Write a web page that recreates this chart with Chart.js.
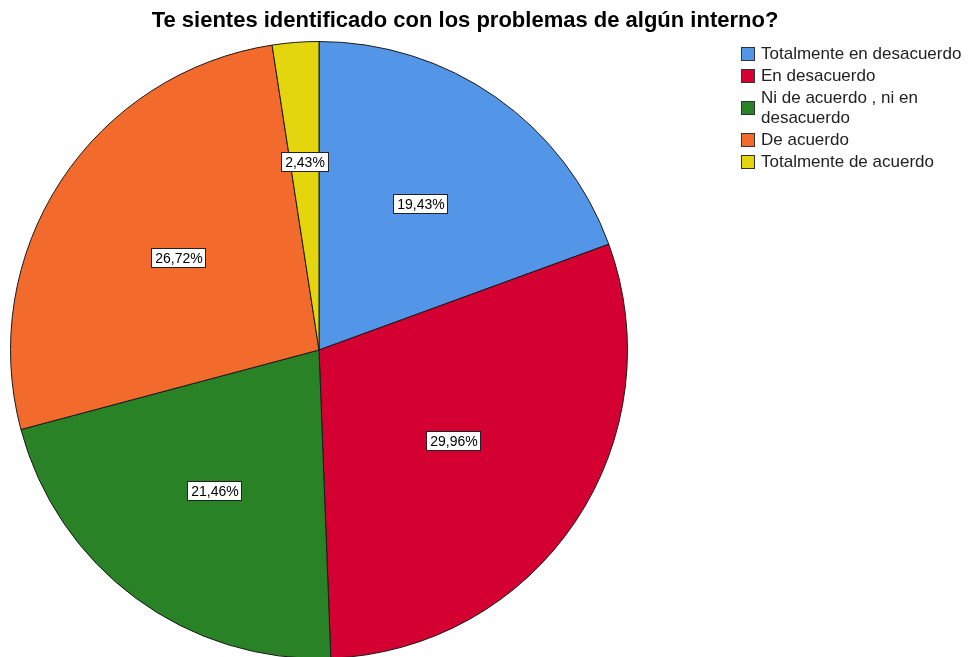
<!DOCTYPE html>
<html>
<head>
<meta charset="utf-8">
<script src="https://cdn.jsdelivr.net/npm/chart.js@4/dist/chart.umd.min.js"></script>
<style>
  html, body { margin: 0; padding: 0; background: #fff; overflow: hidden; }
  #wrap { position: absolute; left: 0; top: 0; width: 969px; height: 662px; }
</style>
</head>
<body>
<div id="wrap"><canvas id="c"></canvas></div>
<script>
const titleText = "Te sientes identificado con los problemas de algún interno?";
const categories = ["Totalmente en desacuerdo", "En desacuerdo", "Ni de acuerdo , ni en desacuerdo", "De acuerdo", "Totalmente de acuerdo"];
const percentages = [19.43, 29.96, 21.46, 26.72, 2.43];
const valueLabels = ["19,43%", "29,96%", "21,46%", "26,72%", "2,43%"];
const sliceColors = ["#5395E6", "#D50032", "#2A8227", "#F26A2C", "#E4D60E"];

const FONT = '"Liberation Sans", Arial, sans-serif';

const titlePlugin = {
  id: 'customTitle',
  afterDraw(chart) {
    const ctx = chart.ctx;
    ctx.save();
    ctx.font = 'bold 22px ' + FONT;
    ctx.fillStyle = '#000';
    ctx.textAlign = 'center';
    ctx.textBaseline = 'middle';
    ctx.fillText(titleText, 465, 21);
    ctx.restore();
  }
};

function wrapText(ctx, text, maxW) {
  const words = text.split(' ');
  const lines = [];
  let cur = '';
  for (const w of words) {
    const test = cur ? cur + ' ' + w : w;
    if (ctx.measureText(test).width > maxW && cur) { lines.push(cur); cur = w; }
    else cur = test;
  }
  if (cur) lines.push(cur);
  return lines;
}

const legendPlugin = {
  id: 'customLegend',
  afterDraw(chart) {
    const ctx = chart.ctx;
    ctx.save();
    ctx.font = '17px ' + FONT;
    ctx.textBaseline = 'middle';
    ctx.textAlign = 'left';
    const boxX = 741, box = 14, textX = 761, maxW = 969 - textX;
    let top = 43;
    const rowH = 22, lineH = 20;
    categories.forEach((cat, i) => {
      const lines = wrapText(ctx, cat, maxW);
      const h = rowH + (lines.length - 1) * lineH;
      const cy = top + h / 2;
      ctx.fillStyle = sliceColors[i];
      ctx.fillRect(boxX, cy - box / 2, box, box);
      ctx.strokeStyle = '#333';
      ctx.lineWidth = 1;
      ctx.strokeRect(boxX + 0.5, cy - box / 2 + 0.5, box - 1, box - 1);
      ctx.fillStyle = '#222';
      const firstY = cy - (lines.length - 1) * lineH / 2;
      lines.forEach((ln, j) => ctx.fillText(ln, textX, firstY + j * lineH));
      top += h;
    });
    ctx.restore();
  }
};

const labelPlugin = {
  id: 'sliceLabels',
  afterDatasetsDraw(chart) {
    const ctx = chart.ctx;
    const meta = chart.getDatasetMeta(0);
    ctx.save();
    ctx.font = '14px ' + FONT;
    ctx.textAlign = 'center';
    ctx.textBaseline = 'middle';
    meta.data.forEach((arc, i) => {
      const p = arc.getProps(['x', 'y', 'startAngle', 'endAngle', 'outerRadius'], true);
      const mid = (p.startAngle + p.endAngle) / 2;
      const half = (p.endAngle - p.startAngle) / 2;
      const centroid = (2 / 3) * p.outerRadius * Math.sin(half) / half;
      const r = centroid * 0.92;
      const lx = p.x + Math.cos(mid) * r;
      const ly = p.y + Math.sin(mid) * r;
      const txt = valueLabels[i];
      const w = ctx.measureText(txt).width + 8;
      const h = 20;
      const bx = Math.round(lx - w / 2), by = Math.round(ly - h / 2);
      ctx.fillStyle = '#fff';
      ctx.fillRect(bx, by, Math.round(w), h);
      ctx.strokeStyle = '#222';
      ctx.lineWidth = 1;
      ctx.strokeRect(bx + 0.5, by + 0.5, Math.round(w) - 1, h - 1);
      ctx.fillStyle = '#000';
      ctx.fillText(txt, Math.round(lx), Math.round(ly) + 1);
    });
    ctx.restore();
  }
};

new Chart(document.getElementById('c'), {
  type: 'pie',
  data: {
    labels: categories,
    datasets: [{
      data: percentages,
      backgroundColor: sliceColors,
      borderColor: '#1a1a1a',
      borderWidth: 1,
      borderAlign: 'center'
    }]
  },
  options: {
    responsive: true,
    maintainAspectRatio: false,
    devicePixelRatio: 1,
    animation: false,
    layout: { padding: { top: 41, left: 10, right: 341, bottom: 3 } },
    plugins: {
      legend: { display: false },
      title: { display: false },
      tooltip: { enabled: false }
    }
  },
  plugins: [labelPlugin, titlePlugin, legendPlugin]
});
</script>
</body>
</html>
